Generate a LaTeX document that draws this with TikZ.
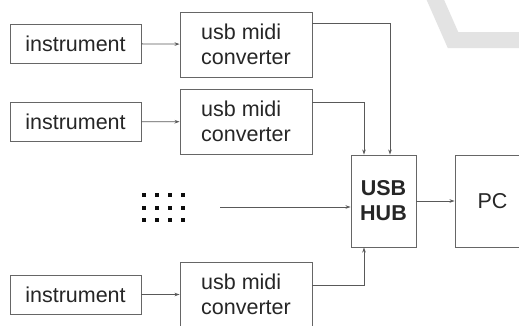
\documentclass[tikz,border=0pt]{standalone}
\usepackage{fontspec}
\setmainfont{Liberation Sans}
\usetikzlibrary{arrows.meta}

\begin{document}
\begin{tikzpicture}[x=1pt, y=-1pt,
    font=\fontsize{21.5}{25}\selectfont,
    box/.style={draw=black!60, line width=0.9pt, text=black!85, inner sep=0pt},
    instrbox/.style={box, minimum width=131pt, minimum height=39pt},
    convbox/.style={box, minimum width=132pt, minimum height=65pt, align=left},
    hubbox/.style={box, minimum width=65pt, minimum height=92pt, align=center, font=\fontsize{21.5}{25}\selectfont\bfseries},
    wire/.style={draw=black!65, line width=0.8pt, -{Stealth[length=5pt, width=3.5pt]}}]

  % page frame
  \clip (0, 0) rectangle (519, 325) ;
  \fill [white] (0, 0) rectangle (519, 325) ;

  % watermark stroke
  \draw [black!11, line width=16pt] (431, -10) -- (453, 40) -- (530, 40) ;

  % instruments
  \node [instrbox] (instr1) at (75.5,  43.5) {instrument} ;
  \node [instrbox] (instr2) at (75.5, 122  ) {instrument} ;
  \node [instrbox] (instr3) at (75.5, 294.5) {instrument} ;

  % usb midi converters
  \node [convbox] (conv1) at (246,  44.5) {usb midi\\converter} ;
  \node [convbox] (conv2) at (246, 121.5) {usb midi\\converter} ;
  \node [convbox] (conv3) at (246, 294.5) {usb midi\\converter} ;

  % hub and pc
  \node [hubbox] (hub) at (383.5, 201) {USB\\HUB} ;
  \node [box, minimum width=75pt, minimum height=92pt] (pc) at (492.5, 201) {PC} ;

  % more instruments
  \node [minimum width=44pt, minimum height=30pt] (dots) at (163, 207.5) {} ;
  \foreach \i in {0, 1, 2, 3}
    \foreach \j in {-1, 0, 1}
      \fill [black!95] ([xshift=\i*13pt-19.5pt, yshift=-\j*12.5pt]dots.center) +(-2,-2) rectangle +(2,2) ;
  \coordinate (more) at (220, 207) ;

  % instrument to converter
  \draw [wire] (instr1) -- (conv1) ;
  \draw [wire] (instr2) -- (conv2) ;
  \draw [wire] (instr3) -- (conv3) ;

  % converters to hub
  \draw [wire] ([yshift=-12pt]conv1.north east) -| ([xshift=6.5pt]hub.north) ;
  \draw [wire] ([yshift=-14pt]conv2.north east) -| ([xshift=-19.5pt]hub.north) ;
  \draw [wire] ([yshift=-24pt]conv3.north east) -| ([xshift=-19.5pt]hub.south) ;
  \draw [wire] (more) -- (more -| hub.west) ;

  % hub to pc
  \draw [wire] (hub) -- (pc) ;

\end{tikzpicture}
\end{document}
